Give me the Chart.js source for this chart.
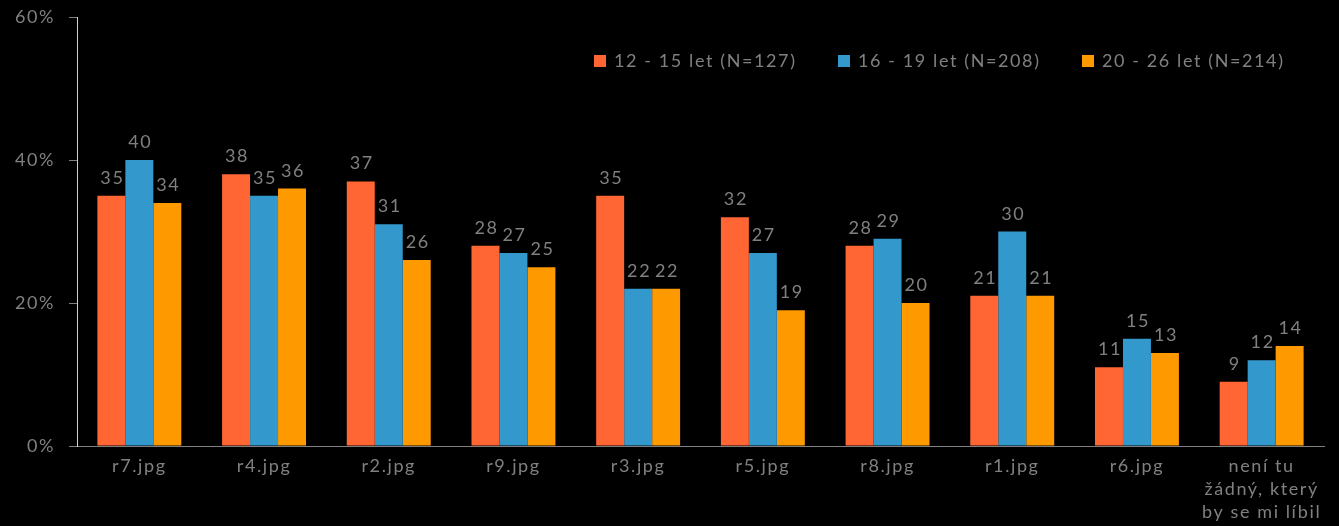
<!DOCTYPE html>
<html><head><meta charset="utf-8">
<script src="https://cdn.jsdelivr.net/npm/chart.js@4"></script>
<style>html,body{margin:0;padding:0;background:#000;}#wrap{width:1339px;height:526px;}</style>
</head><body><div id="wrap"><canvas id="c" width="1339" height="526"></canvas></div>
<script>
const categories = ['r7.jpg','r4.jpg','r2.jpg','r9.jpg','r3.jpg','r5.jpg','r8.jpg','r1.jpg','r6.jpg',['není tu','žádný, který','by se mi líbil']];
const seriesNames = ['12 - 15 let (N=127)','16 - 19 let (N=208)','20 - 26 let (N=214)'];
const age12to15 = [35,38,37,28,35,32,28,21,11,9];
const age16to19 = [40,35,31,27,22,27,29,30,15,12];
const age20to26 = [34,36,26,25,22,19,20,21,13,14];
const yTicks = [0,20,40,60];

const colors = ['#FF6633','#3399CC','#FF9900'];
const FONT = 'Lato';
const TXT = '#808080';
const SP = '1.6px';

const spacingPlugin = {
  id:'spacing',
  beforeDraw(chart){ chart.ctx.letterSpacing=SP; }
};
const labelPlugin = {
  id:'vlabels',
  afterDatasetsDraw(chart){
    const ctx=chart.ctx;
    ctx.save();
    ctx.letterSpacing=SP;
    ctx.font='18px '+FONT;
    ctx.fillStyle=TXT;
    ctx.textAlign='center';
    ctx.textBaseline='alphabetic';
    chart.data.datasets.forEach((ds,i)=>{
      chart.getDatasetMeta(i).data.forEach((el,j)=>{
        ctx.fillText(String(ds.data[j]), el.x+1, el.y-12);
      });
    });
    ctx.restore();
  }
};
const legendPlugin = {
  id:'customLegend',
  afterDraw(chart){
    const ctx=chart.ctx;
    ctx.save();
    ctx.letterSpacing=SP;
    ctx.font='18px '+FONT;
    ctx.textBaseline='middle';
    ctx.textAlign='left';
    chart.data.datasets.forEach((ds,i)=>{
      const x=594+i*244, y=61;
      ctx.fillStyle=ds.backgroundColor;
      ctx.fillRect(x,y-6,12,12);
      ctx.fillStyle=TXT;
      ctx.fillText(ds.label,x+20,y);
    });
    ctx.restore();
  }
};

new Chart(document.getElementById('c'),{
  type:'bar',
  data:{
    labels:categories,
    datasets:[
      {label:seriesNames[0],data:age12to15,backgroundColor:colors[0]},
      {label:seriesNames[1],data:age16to19,backgroundColor:colors[1]},
      {label:seriesNames[2],data:age20to26,backgroundColor:colors[2]}
    ]
  },
  options:{
    responsive:false,
    animation:false,
    devicePixelRatio:1,
    datasets:{bar:{categoryPercentage:0.673,barPercentage:1,borderWidth:0}},
    layout:{padding:{left:0,right:15,top:17,bottom:0}},
    plugins:{legend:{display:false},tooltip:{enabled:false}},
    scales:{
      x:{
        grid:{display:false},
        border:{display:true,color:'#808080',width:1},
        ticks:{color:TXT,font:{family:FONT,size:18,lineHeight:1.28},padding:1,maxRotation:0,autoSkip:false},
        afterFit(s){s.height=80;s.paddingLeft=0;s.paddingRight=0;}
      },
      y:{
        min:0,max:60,
        grid:{display:true,drawOnChartArea:false,drawTicks:true,tickLength:8,color:'#808080'},
        border:{display:true,color:'#d0d0d0',width:1},
        ticks:{color:TXT,font:{family:FONT,size:18},padding:14,callback:v=>v+'%'},
        afterBuildTicks(s){s.ticks=yTicks.map(v=>({value:v}));},
        afterFit(s){s.width=77;s.paddingTop=0;s.paddingBottom=0;}
      }
    }
  },
  plugins:[spacingPlugin,labelPlugin,legendPlugin]
});
</script></body></html>
